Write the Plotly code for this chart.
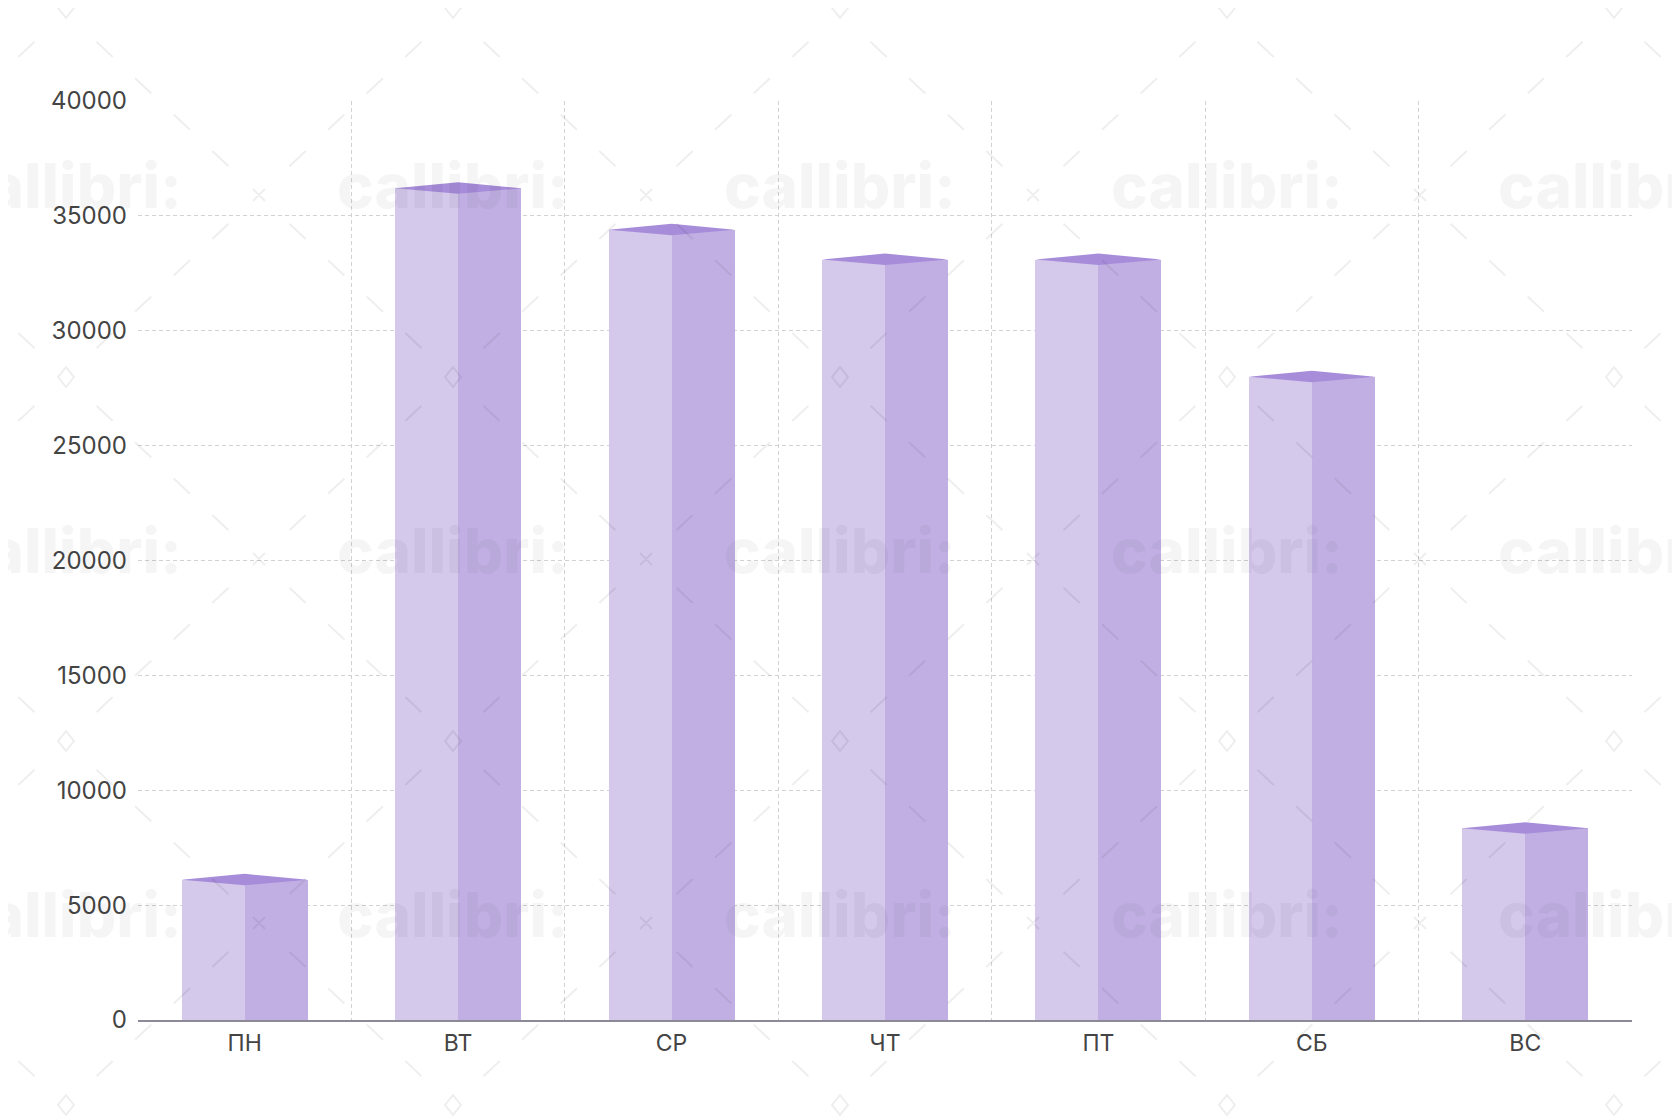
import plotly.graph_objects as go

# ---- data ----
days = ["ПН", "ВТ", "СР", "ЧТ", "ПТ", "СБ", "ВС"]
values = [6100, 36200, 34400, 33100, 33100, 28000, 8350]
y_ticks = [0, 5000, 10000, 15000, 20000, 25000, 30000, 35000, 40000]

# ---- layout constants (page has an 8px body margin) ----
OFF = 8
W, H = 1680 - OFF, 1120 - OFF
ML, MT = 138 - OFF, 101 - OFF
MR, MB = W - (1632 - OFF), H - (1020 - OFF)
PW, PH = W - ML - MR, H - MT - MB
YMAX = 40000
HALF = 0.295
FONT = "Inter, Roboto, sans-serif"

C_LEFT = "#d4c8eb"
C_RIGHT = "#c1afe3"
C_TOP = "#a78cda"
GRID = "#d2d2d2"

xs = list(range(len(days)))
px_per_unit = PH / YMAX
d_up = 6 / px_per_unit
d_dn = 5.5 / px_per_unit

fig = go.Figure()
fig.add_trace(go.Bar(x=xs, y=values, width=HALF, offset=-HALF,
                     marker=dict(color=C_LEFT, line=dict(width=0)),
                     hoverinfo="skip", showlegend=False))
fig.add_trace(go.Bar(x=xs, y=values, width=HALF, offset=0,
                     marker=dict(color=C_RIGHT, line=dict(width=0)),
                     hoverinfo="skip", showlegend=False))

tx, ty = [], []
for x, v in zip(xs, values):
    tx += [x - HALF, x, x + HALF, x, x - HALF, None]
    ty += [v, v + d_up, v, v - d_dn, v, None]
fig.add_trace(go.Scatter(x=tx, y=ty, mode="lines", fill="toself",
                         fillcolor=C_TOP, line=dict(width=0, color=C_TOP),
                         hoverinfo="skip", showlegend=False))

# ---- watermark (page decoration, given in page pixels) ----
def px(X):
    return (X - OFF - ML) / PW

def py(Y):
    return (H - MB - (Y - OFF)) / PH

segs = []
EDX, EDY = 193, 182
for i in range(-1, 5):
    for j in range(-1, 4):
        cx, cy = 259 + 387 * i, 195 + 364 * j
        segs.append(f"M{px(cx-6):.5f},{py(cy-6):.5f}L{px(cx+6):.5f},{py(cy+6):.5f}")
        segs.append(f"M{px(cx-6):.5f},{py(cy+6):.5f}L{px(cx+6):.5f},{py(cy-6):.5f}")
        for sx in (-1, 1):
            for sy in (-1, 1):
                for f in (0.2, 0.4, 0.6, 0.8):
                    a, b = f - 0.042, f + 0.042
                    x0, y0 = cx + sx * EDX * a, cy + sy * EDY * a
                    x1, y1 = cx + sx * EDX * b, cy + sy * EDY * b
                    segs.append(f"M{px(x0):.5f},{py(y0):.5f}L{px(x1):.5f},{py(y1):.5f}")
for i in range(-1, 5):
    for j in range(0, 4):
        cx, cy = 66 + 387 * i, 8 + 364 * j + (5 if j > 0 else 0)
        segs.append(
            f"M{px(cx-8):.5f},{py(cy):.5f}L{px(cx):.5f},{py(cy-10):.5f}"
            f"L{px(cx+8):.5f},{py(cy):.5f}L{px(cx):.5f},{py(cy+10):.5f}Z")
fig.add_shape(type="path", xref="paper", yref="paper", path="".join(segs),
              line=dict(color="rgba(0,0,0,0.065)", width=2), layer="above")

for i in range(-1, 4):
    for j in range(0, 3):
        cx, cy = 453 + 387 * i, 186 + 364 * j
        fig.add_annotation(x=px(cx), y=py(cy), xref="paper", yref="paper",
                           text="callibri:", showarrow=False,
                           font=dict(family=FONT, size=62, weight=800,
                                     color="rgba(0,0,0,0.04)"),
                           xanchor="center", yanchor="middle")

fig.update_layout(
    width=W, height=H, autosize=False,
    margin=dict(l=ML, r=MR, t=MT, b=MB),
    paper_bgcolor="white", plot_bgcolor="white",
    barmode="overlay", bargap=0,
    font=dict(family=FONT, size=24, color="#444444"),
    xaxis=dict(range=[-0.5, len(days) - 0.5], tickmode="array",
               tickvals=xs, ticktext=days, showgrid=False, zeroline=False,
               showline=True, linecolor="#8c8a96", linewidth=2,
               ticks="", ticklabelstandoff=1,
               tickfont=dict(family=FONT, size=23, color="#444444"),
               minor=dict(tickmode="array",
                          tickvals=[k - 0.5 for k in range(len(days) + 1)],
                          showgrid=True, gridcolor=GRID, griddash="4px,3px",
                          gridwidth=1, ticks="")),
    yaxis=dict(range=[0, YMAX], tickmode="array", tickvals=y_ticks,
               ticktext=[str(t) for t in y_ticks],
               showgrid=True, gridcolor=GRID, griddash="4px,3px", gridwidth=1,
               zeroline=False, showline=False, ticks="",
               ticklabelstandoff=10,
               tickfont=dict(family=FONT, size=24, color="#444444")),
)

fig.write_html("out.html")
